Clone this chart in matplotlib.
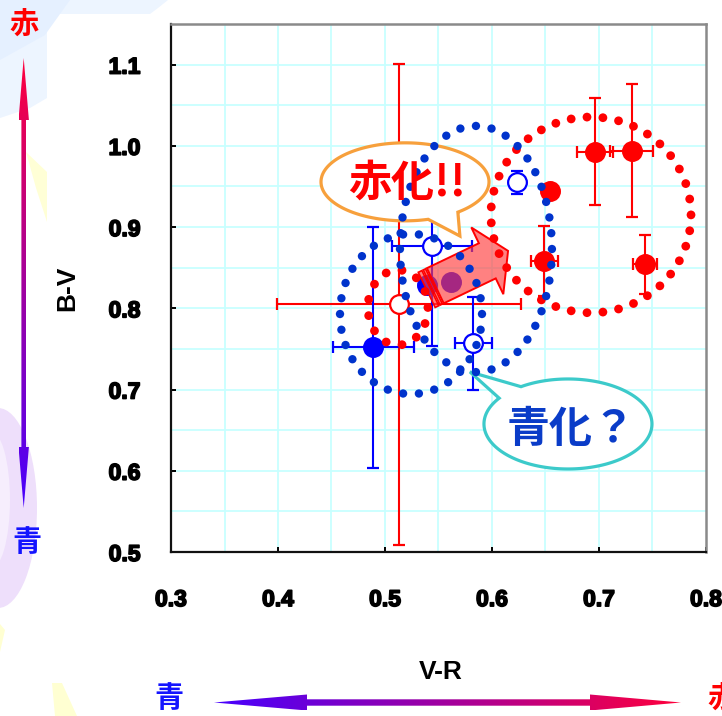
import numpy as np
import matplotlib
matplotlib.use("Agg")
import matplotlib.pyplot as plt
from matplotlib.patches import Polygon, Ellipse
import matplotlib.patheffects as pe

# ---- colour-index measurements (V-R, B-V) ----
red_x = [0.696, 0.7305, 0.654, 0.649, 0.743]
red_y = [0.993, 0.994, 0.944, 0.858, 0.854]
red_xerr = [0.017, 0.020, 0.0, 0.0125, 0.011]
red_yerr = [0.066, 0.082, 0.0, 0.043, 0.036]

red_open_x = [0.513]
red_open_y = [0.805]
red_open_xerr = [0.114]
red_open_yerr = [0.296]

blue_x = [0.489, 0.539, 0.562]
blue_y = [0.752, 0.829, 0.833]
blue_xerr = [0.038, 0.0, 0.0]
blue_yerr = [0.148, 0.0, 0.0]

blue_open_x = [0.544, 0.5826, 0.623]
blue_open_y = [0.877, 0.757, 0.955]
blue_open_xerr = [0.037, 0.0175, 0.0]
blue_open_yerr = [0.124, 0.057, 0.0145]

x_ticks = [0.3, 0.4, 0.5, 0.6, 0.7, 0.8]
x_tick_labels = ["0.3", "0.4", "0.5", "0.6", "0.7", "0.8"]
y_ticks = [0.5, 0.6, 0.7, 0.8, 0.9, 1.0, 1.1]
y_tick_labels = ["0.5", "0.6", "0.7", "0.8", "0.9", "1.0", "1.1"]

# groups circled by dotted rings: (centre x, centre y, width, height)
blue_rings = [(0.585, 0.873, 0.142, 0.303), (0.5243, 0.793, 0.1327, 0.197)]
red_rings = [(0.6925, 0.915, 0.187, 0.241), (0.5121, 0.801, 0.056, 0.0924)]

W, H = 722, 716
fig = plt.figure(figsize=(W / 100, H / 100), dpi=100)
fig.patch.set_facecolor("white")

JP = ["Noto Sans CJK JP", "DejaVu Sans"]
LAT = "Liberation Sans"

# ---- background layer in pixel units (y downward) ----
bg = fig.add_axes([0, 0, 1, 1], zorder=-5)
bg.set_xlim(0, W)
bg.set_ylim(H, 0)
bg.axis("off")
bg.add_patch(Polygon([(0, 0), (168, 0), (158, 8), (150, 14), (47, 14), (47, 98),
                      (30, 108), (0, 118)], closed=True, fc="#EDF5FF", ec="none"))
bg.add_patch(Polygon([(0, 0), (70, 0), (45, 35), (0, 60)], closed=True,
                     fc="#E5F0FF", ec="none"))
bg.add_patch(Polygon([(26, 152), (47, 172), (47, 222), (36, 188)], closed=True,
                     fc="#FFFFD6", ec="none"))
bg.add_patch(Ellipse((-2, 508), 78, 200, fc="#EEDFFB", ec="none"))
bg.add_patch(Ellipse((-10, 500), 40, 140, fc="#F6EEFD", ec="none"))
bg.add_patch(Polygon([(52, 683), (62, 683), (77, 716), (55, 716)], closed=True,
                     fc="#FFFFD2", ec="none"))
bg.add_patch(Polygon([(0, 624), (5, 630), (0, 652)], closed=True,
                     fc="#FFFFD2", ec="none"))


def gradient_arrow(verts, extent, c0, c1, vertical):
    """Fill a polygon (pixel coords) with a linear colour gradient."""
    n = 256
    t = np.linspace(0, 1, n)
    c0 = np.array(c0) / 255.0
    c1 = np.array(c1) / 255.0
    cols = c0[None, :] * (1 - t[:, None]) + c1[None, :] * t[:, None]
    img = cols[:, None, :] if vertical else cols[None, :, :]
    x0, x1, y0, y1 = extent
    im = bg.imshow(img, extent=(x0, x1, y1, y0), origin="upper",
                   aspect="auto", interpolation="bilinear", zorder=2)
    patch = Polygon(verts, closed=True, fc="none", ec="none",
                    transform=bg.transData)
    bg.add_patch(patch)
    im.set_clip_path(patch)


# vertical colour-scale arrow (red at top, blue at bottom)
cx = 23.7
vt, vhb, vbb, vb = 58, 120, 447, 508
hw, sw = 5.2, 2.3
v_verts = [(cx, vt), (cx + hw, vhb), (cx + sw, vhb), (cx + sw, vbb), (cx + hw, vbb),
           (cx, vb), (cx - hw, vbb), (cx - sw, vbb), (cx - sw, vhb), (cx - hw, vhb)]
gradient_arrow(v_verts, (cx - hw, cx + hw, vt, vb), (255, 0, 60), (70, 0, 255), True)

# horizontal colour-scale arrow (blue at left, red at right)
cy = 702.5
hl, hlb, hrb, hr = 214, 307, 590, 681
hhw, hsw = 8.0, 3.2
h_verts = [(hl, cy), (hlb, cy - hhw), (hlb, cy - hsw), (hrb, cy - hsw), (hrb, cy - hhw),
           (hr, cy), (hrb, cy + hhw), (hrb, cy + hsw), (hlb, cy + hsw), (hlb, cy + hhw)]
gradient_arrow(h_verts, (hl, hr, cy - hhw, cy + hhw), (70, 0, 255), (255, 0, 60), False)

bg.text(24, 23.5, "赤", color="#FF0000", fontsize=21, fontweight="bold",
        family=JP, ha="center", va="center")
bg.text(27, 542, "青", color="#1414FF", fontsize=21, fontweight="bold",
        family=JP, ha="center", va="center")
bg.text(169, 698, "青", color="#1414FF", fontsize=21, fontweight="bold",
        family=JP, ha="center", va="center")
bg.text(707, 698, "赤", color="#FF0000", fontsize=21, fontweight="bold",
        family=JP, ha="left", va="center")

# ---- main chart ----
ax = fig.add_axes([171 / W, (H - 552) / H, (706 - 171) / W, (552 - 24) / H])
ax.set_facecolor("white")
ax.set_xlim(0.3, 0.8)
ax.set_ylim(0.5, 1.15)

grid_x = np.arange(0.35, 0.8, 0.05)
grid_y = np.arange(0.55, 1.15, 0.05)
for gx in grid_x:
    ax.axvline(gx, color="#C8FFFF", lw=1.3, zorder=0.5)
for gy in grid_y:
    ax.axhline(gy, color="#C8FFFF", lw=1.3, zorder=0.5)

ax.set_xticks(x_ticks)
ax.set_xticklabels(x_tick_labels)
ax.set_yticks(y_ticks)
ax.set_yticklabels(y_tick_labels)
ax.tick_params(direction="in", length=3.8, width=1.4, color="black",
               top=False, right=False)
ax.tick_params(axis="x", pad=26)
ax.tick_params(axis="y", pad=22)
for lab in ax.get_xticklabels() + ax.get_yticklabels():
    lab.set_fontfamily(LAT)
    lab.set_fontweight("bold")
    lab.set_fontsize(16.5)
    lab.set_path_effects([pe.withStroke(linewidth=1.2, foreground="black")])

for side in ("left", "bottom"):
    ax.spines[side].set_color("#111111")
    ax.spines[side].set_linewidth(1.6)
for side in ("top", "right"):
    ax.spines[side].set_color("#8A8A8A")
    ax.spines[side].set_linewidth(1.8)

ax.set_xlabel("V-R", fontfamily=LAT, fontweight="bold", fontsize=19)
ax.set_ylabel("B-V", fontfamily=LAT, fontweight="bold", fontsize=19)
ax.xaxis.set_label_coords((441 - 171) / 535, (552 - 672) / 528)
ax.xaxis.label.set_va("center")
ax.yaxis.set_label_coords((67 - 171) / 535, 0.5)
ax.yaxis.label.set_va("center")


def plot_points(xs, ys, xes, yes, color, filled):
    for x, y, xe, ye in zip(xs, ys, xes, yes):
        ax.errorbar(x, y, xerr=xe if xe > 0 else None, yerr=ye if ye > 0 else None,
                    fmt="o", ms=13.5, color=color, ecolor=color,
                    mfc=color if filled else "white", mec=color, mew=1.6,
                    elinewidth=1.5, capsize=4.3, capthick=1.5, zorder=2)


plot_points(red_open_x, red_open_y, red_open_xerr, red_open_yerr, "#FF0000", False)
plot_points(blue_x, blue_y, blue_xerr, blue_yerr, "#0000FF", True)
plot_points(blue_open_x, blue_open_y, blue_open_xerr, blue_open_yerr, "#0000FF", False)
plot_points(red_x, red_y, red_xerr, red_yerr, "#FF0000", True)

# fix the layout so data <-> pixel conversions are valid
fig.canvas.draw()


def to_disp(x, y):
    return ax.transData.transform((x, y))


def to_data(pts):
    return ax.transData.inverted().transform(np.asarray(pts))


# translucent striped arrow: shift of the colour towards red
arrow_tail = (0.539, 0.8227)
arrow_tip = (0.615, 0.8707)
p0 = to_disp(*arrow_tail)
p1 = to_disp(*arrow_tip)
vec = p1 - p0
L = np.hypot(*vec)
u = vec / L
nrm = np.array([-u[1], u[0]])
s_hw, h_hw, h_len = 19.5, 37.0, 23.0


def P(s, t):
    return p0 + u * s + nrm * t


arrow_fc = (1.0, 0.24, 0.24, 0.65)
shaft = [P(9.5, -s_hw), P(L - h_len, -s_hw), P(L - h_len, -h_hw), P(L, 0),
         P(L - h_len, h_hw), P(L - h_len, s_hw), P(9.5, s_hw)]
ax.add_patch(Polygon(to_data(shaft), closed=True, fc=arrow_fc, ec="#FF0000",
                     lw=1.4, zorder=3))
for s_a, s_b in ((0.0, 4.0), (5.5, 8.0)):
    bar = [P(s_a, -s_hw), P(s_b, -s_hw), P(s_b, s_hw), P(s_a, s_hw)]
    ax.add_patch(Polygon(to_data(bar), closed=True, fc=arrow_fc, ec="#FF0000",
                         lw=1.2, zorder=3))


def callout(center, rx, ry, tip, a_from, a_to, edge):
    c = to_disp(*center)
    t = to_disp(*tip)
    th = np.radians(np.linspace(a_from, a_to, 300))
    pts = np.column_stack([c[0] + rx * np.cos(th), c[1] + ry * np.sin(th)])
    pts = np.vstack([pts, t])
    ax.add_patch(Polygon(to_data(pts), closed=True, fc="white", ec=edge,
                         lw=2.3, zorder=4, joinstyle="miter", clip_on=False))


callout((0.5187, 0.9557), 84, 39, (0.570, 0.889), -51, 286, "#F7A03C")
callout((0.671, 0.6576), 84, 45, (0.5794, 0.7217), 145, 484, "#3CCACA")


def dotted_ring(ring, color, spacing_px, dot_pt, z):
    """Evenly spaced round dots along an ellipse outline."""
    ex, ey, ew, eh = ring
    c = to_disp(ex, ey)
    rx = (to_disp(ex + ew / 2, ey) - c)[0]
    ry = (to_disp(ex, ey + eh / 2) - c)[1]
    th = np.linspace(0, 2 * np.pi, 4001)
    px = c[0] + rx * np.cos(th)
    py = c[1] + ry * np.sin(th)
    seg = np.hypot(np.diff(px), np.diff(py))
    cum = np.concatenate([[0], np.cumsum(seg)])
    n = int(round(cum[-1] / spacing_px))
    targets = np.arange(n) * cum[-1] / n
    dx = np.interp(targets, cum, px)
    dy = np.interp(targets, cum, py)
    pts = to_data(np.column_stack([dx, dy]))
    ax.scatter(pts[:, 0], pts[:, 1], s=dot_pt ** 2, color=color,
               edgecolors="none", zorder=z)


for ring in red_rings:
    dotted_ring(ring, "#FF0000", 16.0, 6.3, 5)
for ring in blue_rings:
    dotted_ring(ring, "#0033CC", 15.8, 6.0, 5.2)

ax.text(0.5205, 0.9545, "赤化!!", color="#FF0000", fontsize=31, fontweight="bold",
        family=JP, ha="center", va="center", zorder=6)
ax.text(0.6738, 0.651, "青化？", color="#0A3CC8", fontsize=31, fontweight="bold",
        family=JP, ha="center", va="center", zorder=6)

fig.savefig("out.png", dpi=100)
